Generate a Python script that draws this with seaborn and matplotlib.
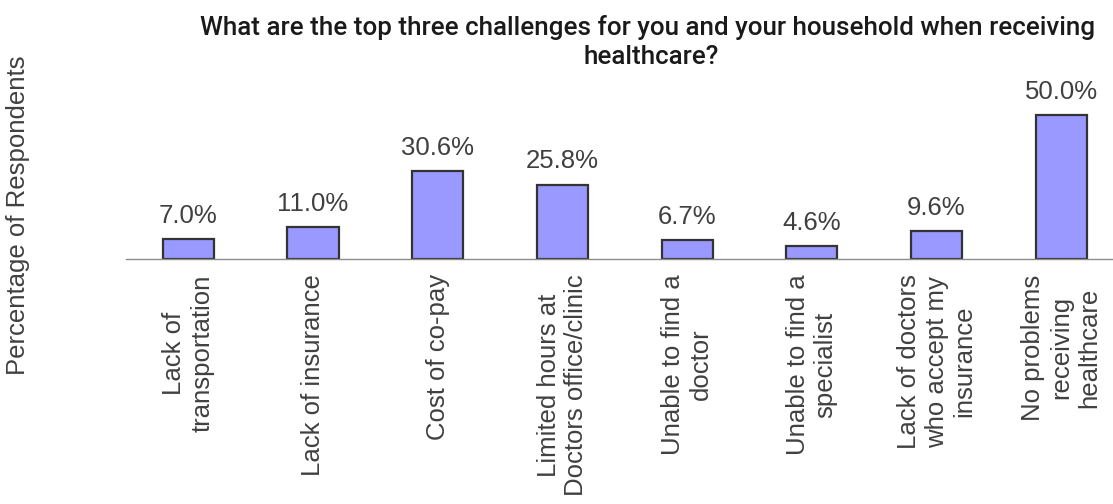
import matplotlib
matplotlib.use("Agg")
import matplotlib.pyplot as plt
import seaborn as sns
import pandas as pd

# Survey answers and share of respondents (%)
categories = [
    "Lack of\ntransportation",
    "Lack of insurance",
    "Cost of co-pay",
    "Limited hours at\nDoctors office/clinic",
    "Unable to find a\ndoctor",
    "Unable to find a\nspecialist",
    "Lack of doctors\nwho accept my\ninsurance",
    "No problems\nreceiving\nhealthcare",
]
values = [7.0, 11.0, 30.6, 25.8, 6.7, 4.6, 9.6, 50.0]

title_line1 = "What are the top three challenges for you and your household when receiving"
title_line2 = "healthcare?"
y_label = "Percentage of Respondents"

sns.set_style("white")
plt.rcParams["font.family"] = ["Liberation Sans", "DejaVu Sans"]

W, H = 1113, 504
fig = plt.figure(figsize=(W / 100, H / 100), dpi=100)
ax = fig.add_axes([126 / W, (H - 259) / H, (W - 126) / W, 173 / H])

df = pd.DataFrame({"category": categories, "value": values})
sns.barplot(data=df, x="category", y="value", color="#9999FF", saturation=1,
            width=0.41, edgecolor="#333333", linewidth=1.6, ax=ax)

ax.set_xlim(-0.5, 7.415)
ax.set_ylim(0, 60)
for side in ("top", "right", "left"):
    ax.spines[side].set_visible(False)
ax.spines["bottom"].set_color("#8c8c8c")
ax.spines["bottom"].set_linewidth(1.0)
ax.set_yticks([])
ax.set_xlabel("")
ax.set_ylabel("")

ax.tick_params(axis="x", length=0, pad=11)
for lbl in ax.get_xticklabels():
    lbl.set_rotation(90)
    lbl.set_ha("center")
    lbl.set_va("top")
    lbl.set_multialignment("center")
    lbl.set_fontsize(18.5)
    lbl.set_color("#404040")

ax.bar_label(ax.containers[0], labels=[f"{v:.1f}%" for v in values],
             padding=8, fontsize=18.5, color="#404040")

fig.text(18 / W, 1 - 215 / H, y_label, rotation=90, ha="center", va="center",
         fontsize=18.5, color="#404040")

title_font = ["Roboto", "Liberation Sans", "DejaVu Sans"]
t1 = fig.text(648 / W, 1 - 28 / H, title_line1, ha="center", va="center",
              fontsize=18, fontweight="medium", family=title_font, color="#1a1a1a")
t2 = fig.text(651 / W, 1 - 57 / H, title_line2, ha="center", va="center",
              fontsize=18, fontweight="medium", family=title_font, color="#1a1a1a")

# scale the title so its first line spans the header width
renderer = fig.canvas.get_renderer()
w = t1.get_window_extent(renderer).width
size = 18 * 897 / w
t1.set_fontsize(size)
t2.set_fontsize(size)

fig.savefig("out.png", dpi=100)
